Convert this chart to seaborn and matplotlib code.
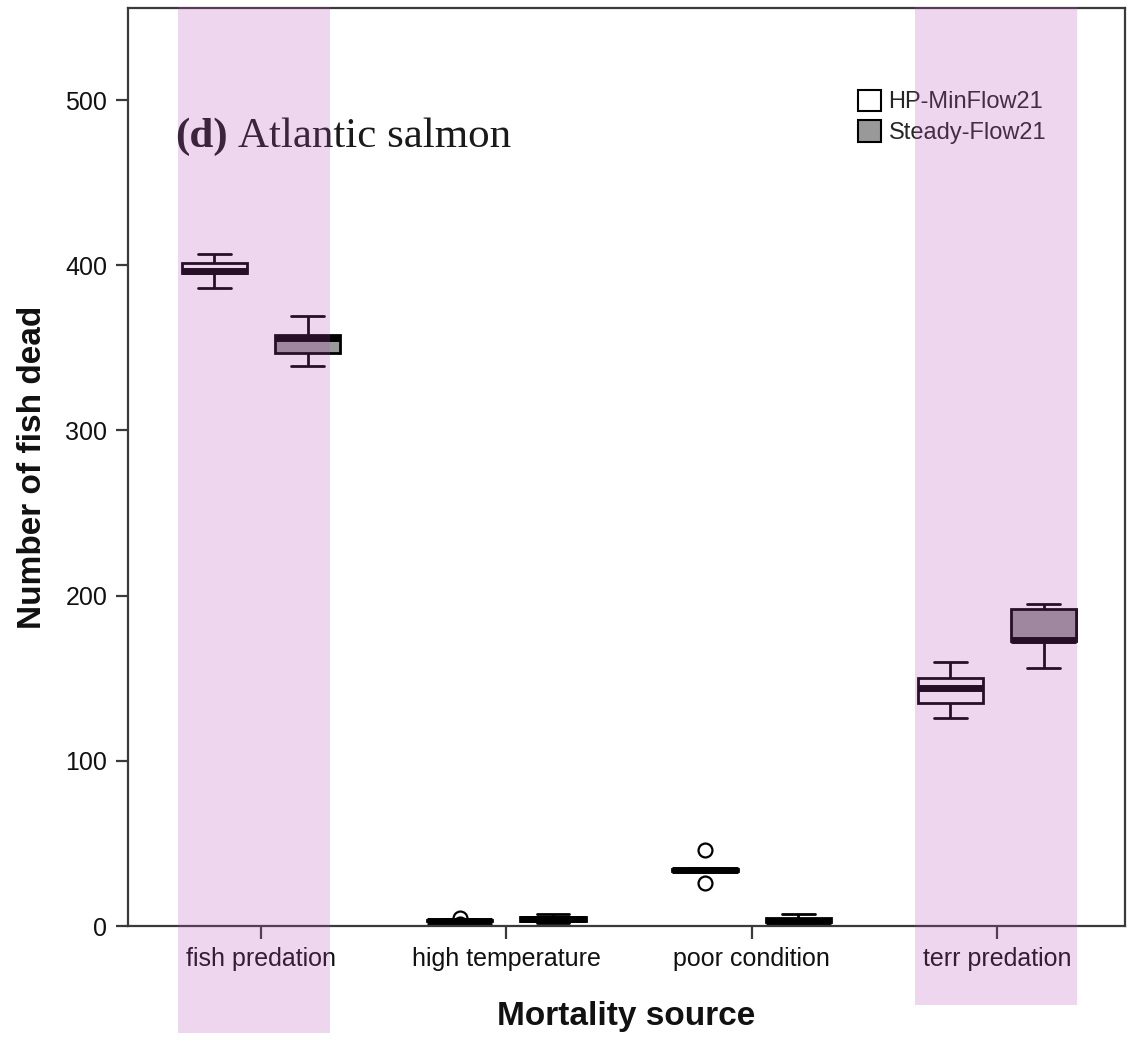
import matplotlib
matplotlib.use("Agg")
import matplotlib.pyplot as plt
from matplotlib.patches import Rectangle
import seaborn as sns
import pandas as pd

# ---- data ----
sources = ["fish predation", "high temperature", "poor condition", "terr predation"]
scenarios = ["HP-MinFlow21", "Steady-Flow21"]

fish_hp = [386, 393, 395, 396, 396, 397, 400, 402, 404, 407]
fish_steady = [339, 344, 346, 350, 355, 357, 357, 358, 362, 369]
hightemp_hp = [1, 2, 3, 3, 3, 3, 3, 4, 4, 5]
hightemp_steady = [2, 3, 3, 4, 4, 5, 5, 6, 6, 7]
poor_hp = [26, 33, 33, 34, 34, 34, 34, 35, 35, 46]
poor_steady = [1, 2, 2, 3, 3, 3, 4, 5, 5, 7]
terr_hp = [126, 130, 133, 140, 143, 145, 148, 151, 155, 160]
terr_steady = [156, 165, 172, 173, 173, 173, 192, 192, 194, 195]

yticks = [0, 100, 200, 300, 400, 500]

groups = {
    ("fish predation", "HP-MinFlow21"): fish_hp,
    ("fish predation", "Steady-Flow21"): fish_steady,
    ("high temperature", "HP-MinFlow21"): hightemp_hp,
    ("high temperature", "Steady-Flow21"): hightemp_steady,
    ("poor condition", "HP-MinFlow21"): poor_hp,
    ("poor condition", "Steady-Flow21"): poor_steady,
    ("terr predation", "HP-MinFlow21"): terr_hp,
    ("terr predation", "Steady-Flow21"): terr_steady,
}
rows = []
for (src, scen), vals in groups.items():
    for v in vals:
        rows.append({"source": src, "scenario": scen, "value": v})
df = pd.DataFrame(rows)

# ---- figure ----
sns.set_style("white")
plt.rcParams["font.family"] = ["Liberation Sans", "DejaVu Sans"]

W, H = 1127, 1053
fig = plt.figure(figsize=(W / 100, H / 100), dpi=100)
ax = fig.add_axes([128 / W, 1 - 926 / H, (1125 - 128) / W, (926 - 8) / H])

palette = {"HP-MinFlow21": "#ffffff", "Steady-Flow21": "#999999"}
sns.boxplot(
    data=df, x="source", y="value", hue="scenario",
    order=sources, hue_order=scenarios, palette=palette, saturation=1,
    width=0.76, gap=0.3, linecolor="black", linewidth=2,
    whis=1.5, ax=ax,
    medianprops=dict(linewidth=5, color="black"),
    flierprops=dict(marker="o", markerfacecolor="none", markeredgecolor="black",
                    markersize=10, markeredgewidth=1.6),
)

ax.set_xlim(-0.542, 3.522)
ax.set_ylim(0, 555.7)
ax.set_yticks(yticks)
ax.set_yticklabels([str(t) for t in yticks])

for sp in ax.spines.values():
    sp.set_visible(True)
    sp.set_color("#3a3a3a")
    sp.set_linewidth(1.6)

ax.tick_params(axis="both", which="both", direction="out", length=9, width=1.6,
               color="#3a3a3a", labelsize=18, labelcolor="#111111", pad=6,
               left=True, bottom=True)

ax.set_xlabel("Mortality source", fontsize=24, fontweight="bold", labelpad=22,
              color="#111111")
ax.set_ylabel("Number of fish dead", fontsize=24, fontweight="bold", labelpad=12,
              color="#111111")

# panel title
ax.text(0.047, 0.849, "(d)", transform=ax.transAxes, fontsize=31,
        fontweight="bold", family="Liberation Serif", va="baseline", ha="left",
        color="#1a1a1a")
ax.text(0.110, 0.849, "Atlantic salmon", transform=ax.transAxes, fontsize=31,
        family="Liberation Serif", va="baseline", ha="left", color="#1a1a1a")

# legend
handles, labels = ax.get_legend_handles_labels()
if ax.get_legend() is not None:
    ax.get_legend().remove()
for h in handles:
    try:
        h.set_edgecolor("black")
        h.set_linewidth(1.5)
    except Exception:
        pass
ax.legend(handles, labels, loc="upper left", bbox_to_anchor=(0.732, 0.911),
          frameon=False, fontsize=17, handlelength=1.0, handleheight=1.0,
          handletextpad=0.3, labelspacing=0.3, borderaxespad=0, borderpad=0)

# translucent highlight bands
band_color = "#b64db6"
for x0, x1, ybot in [(178, 330, 1033), (915, 1077, 1005)]:
    fig.patches.append(Rectangle((x0 / W, 1 - ybot / H), (x1 - x0) / W, (ybot - 7) / H,
                                 transform=fig.transFigure, facecolor=band_color,
                                 edgecolor="none", alpha=0.22, zorder=10))

fig.savefig("out.png", dpi=100)
